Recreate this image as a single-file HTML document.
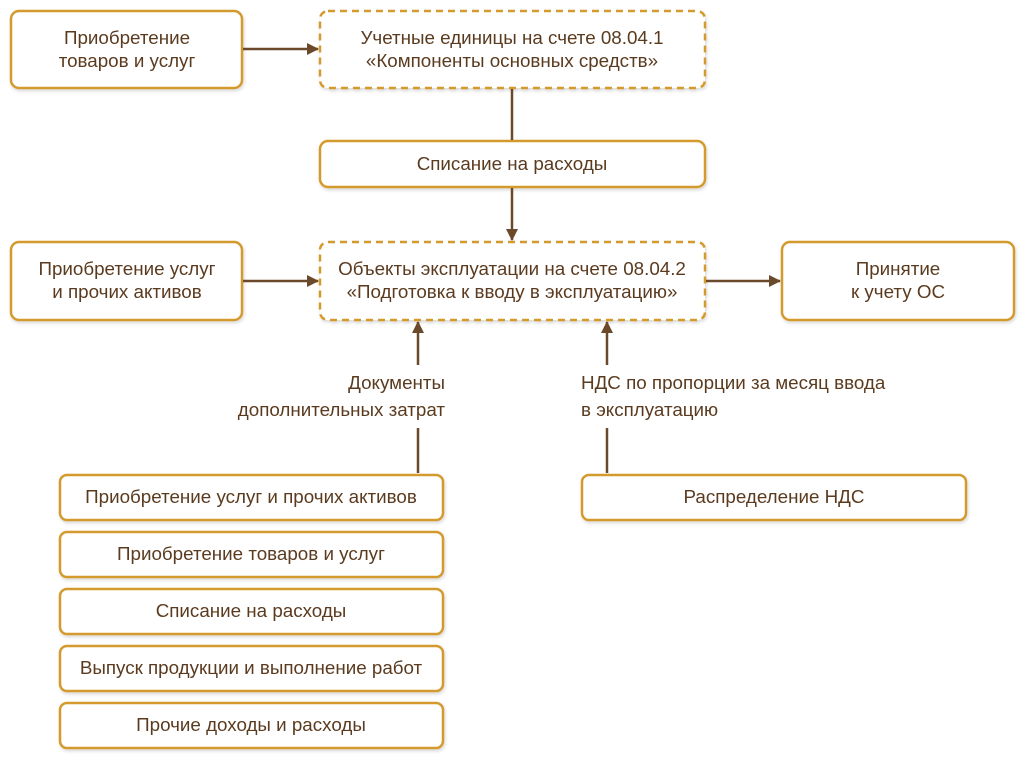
<!DOCTYPE html>
<html><head><meta charset="utf-8"><style>
body{margin:0;background:#fff}
svg text{font-family:"Liberation Sans",sans-serif;font-size:18.8px;fill:#5b3b1f}
</style></head><body>
<svg width="1025" height="761" xmlns="http://www.w3.org/2000/svg">
<defs>
<marker id="a" markerWidth="12" markerHeight="12" refX="11" refY="6" orient="auto" markerUnits="userSpaceOnUse"><path d="M0,0 L12,6 L0,12 z" fill="#6b4a2b"/></marker>
<filter id="s" x="-5%" y="-10%" width="110%" height="130%"><feDropShadow dx="1" dy="2" stdDeviation="1.5" flood-color="#000" flood-opacity="0.15"/></filter>
</defs>
<g fill="#fff" stroke="#d49a2e" stroke-width="2.5" filter="url(#s)">
<rect x="11" y="11" width="231" height="77" rx="8"/>
<rect x="320" y="11" width="385" height="77" rx="8" stroke-dasharray="7,5"/>
<rect x="320" y="141" width="385" height="46" rx="8"/>
<rect x="11" y="242" width="231" height="78" rx="8"/>
<rect x="320" y="242" width="385" height="78" rx="8" stroke-dasharray="7,5"/>
<rect x="782" y="242" width="232" height="78" rx="8"/>
<rect x="60" y="475" width="383" height="45" rx="7"/>
<rect x="60" y="532" width="383" height="45" rx="7"/>
<rect x="60" y="589" width="383" height="45" rx="7"/>
<rect x="60" y="646" width="383" height="45" rx="7"/>
<rect x="60" y="703" width="383" height="45" rx="7"/>
<rect x="582" y="475" width="384" height="45" rx="7"/>
</g>
<g stroke="#6b4a2b" stroke-width="2.5" fill="none">
<line x1="243" y1="49" x2="318" y2="49" marker-end="url(#a)"/>
<line x1="512" y1="89" x2="512" y2="140"/>
<line x1="512" y1="188" x2="512" y2="240" marker-end="url(#a)"/>
<line x1="243" y1="281" x2="318" y2="281" marker-end="url(#a)"/>
<line x1="706" y1="281" x2="780" y2="281" marker-end="url(#a)"/>
<line x1="418" y1="365" x2="418" y2="322" marker-end="url(#a)"/>
<line x1="418" y1="428" x2="418" y2="473"/>
<line x1="607" y1="365" x2="607" y2="322" marker-end="url(#a)"/>
<line x1="607" y1="428" x2="607" y2="473"/>
</g>
<g text-anchor="middle">
<text x="127" y="44">Приобретение</text><text x="127" y="67">товаров и услуг</text>
<text x="512" y="44">Учетные единицы на счете 08.04.1</text><text x="512" y="67">«Компоненты основных средств»</text>
<text x="512" y="170">Списание на расходы</text>
<text x="127" y="275">Приобретение услуг</text><text x="127" y="298">и прочих активов</text>
<text x="512" y="275">Объекты эксплуатации на счете 08.04.2</text><text x="512" y="298">«Подготовка к вводу в эксплуатацию»</text>
<text x="898" y="275">Принятие</text><text x="898" y="298">к учету ОС</text>
<text x="251" y="503">Приобретение услуг и прочих активов</text>
<text x="251" y="560">Приобретение товаров и услуг</text>
<text x="251" y="617">Списание на расходы</text>
<text x="251" y="674">Выпуск продукции и выполнение работ</text>
<text x="251" y="731">Прочие доходы и расходы</text>
<text x="774" y="503">Распределение НДС</text>
</g>
<text x="445" y="389" text-anchor="end">Документы</text>
<text x="445" y="416" text-anchor="end">дополнительных затрат</text>
<text x="581" y="389">НДС по пропорции за месяц ввода</text>
<text x="581" y="416">в эксплуатацию</text>
</svg>
</body></html>
